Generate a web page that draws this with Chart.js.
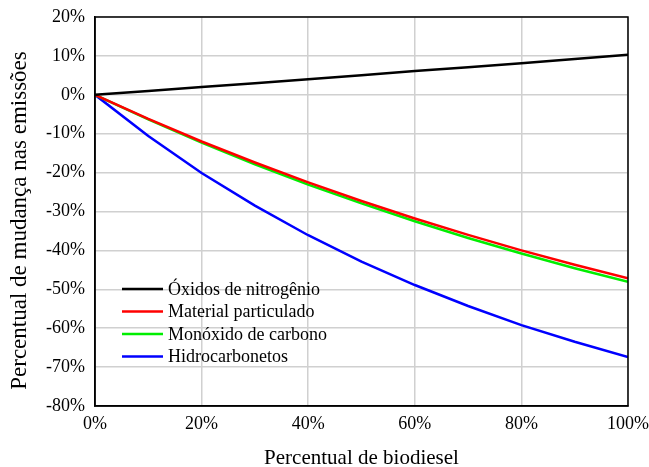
<!DOCTYPE html>
<html>
<head>
<meta charset="utf-8">
<script src="https://cdn.jsdelivr.net/npm/chart.js@4"></script>
<style>
html, body { margin: 0; padding: 0; background: #fff; }
#wrap { width: 649px; height: 467px; position: relative; }
</style>
</head>
<body>
<div id="wrap"><canvas id="chart" width="649" height="467"></canvas></div>
<script>
// ===== DATA =====
const biodieselPct = [0, 10, 20, 30, 40, 50, 60, 70, 80, 90, 100];
const seriesNames = ["Óxidos de nitrogênio", "Material particulado", "Monóxido de carbono", "Hidrocarbonetos"];
const noxValues = [0, 1.0, 2.0, 3.0, 4.0, 5.0, 6.1, 7.1, 8.1, 9.2, 10.3];
const pmValues = [0, -6.2, -12.0, -17.4, -22.5, -27.3, -31.8, -36.0, -40.0, -43.7, -47.2];
const coValues = [0, -6.3, -12.3, -17.9, -23.1, -27.9, -32.5, -36.8, -40.8, -44.6, -48.1];
const hcValues = [0, -10.6, -20.1, -28.5, -36.1, -42.9, -48.9, -54.3, -59.2, -63.5, -67.4];
const seriesColors = ["#000000", "#ff0000", "#00ee00", "#0000ff"];
const xTitle = "Percentual de biodiesel";
const yTitle = "Percentual de mudança nas emissões";

const FONT = "'Liberation Serif', 'Times New Roman', serif";

const toPoints = vals => vals.map((v, i) => ({ x: biodieselPct[i], y: v }));
const allValues = [noxValues, pmValues, coValues, hcValues];

// ===== border, y title + legend inside plot =====
const frameAndLegend = {
    id: "frameAndLegend",
    afterDraw(chart) {
        const ctx = chart.ctx;
        const a = chart.chartArea;
        ctx.save();
        ctx.strokeStyle = "#000";
        ctx.lineWidth = 1.5;
        ctx.strokeRect(a.left, a.top, a.right - a.left, a.bottom - a.top);

        // y axis title (a bit below the plot centre, like the original)
        ctx.save();
        ctx.translate(20, (a.top + a.bottom) / 2 + 9);
        ctx.rotate(-Math.PI / 2);
        ctx.font = "23px " + FONT;
        ctx.textAlign = "center";
        ctx.textBaseline = "middle";
        ctx.fillStyle = "#000";
        ctx.fillText(yTitle, 0, 0);
        ctx.restore();

        ctx.font = "18px " + FONT;
        ctx.textBaseline = "middle";
        ctx.fillStyle = "#000";
        ctx.lineWidth = 2.5;
        seriesNames.forEach((name, i) => {
            const y = a.bottom - 117 + i * 22.5;
            ctx.strokeStyle = seriesColors[i];
            ctx.beginPath();
            ctx.moveTo(a.left + 27, y);
            ctx.lineTo(a.left + 68, y);
            ctx.stroke();
            ctx.fillText(name, a.left + 73, y + 1);
        });
        ctx.restore();
    }
};

new Chart(document.getElementById("chart"), {
    type: "line",
    data: {
        datasets: seriesNames.map((name, i) => ({
            label: name,
            data: toPoints(allValues[i]),
            borderColor: seriesColors[i],
            borderWidth: 2.5,
            pointRadius: 0,
            tension: 0,
            fill: false
        }))
    },
    options: {
        responsive: false,
        animation: false,
        devicePixelRatio: 1,
        layout: { padding: { top: 17, right: 21, left: 0, bottom: 0 } },
        plugins: {
            legend: { display: false },
            tooltip: { enabled: false }
        },
        scales: {
            x: {
                type: "linear",
                min: 0,
                max: 100,
                ticks: {
                    stepSize: 20,
                    callback: v => v + "%",
                    color: "#000",
                    font: { family: FONT, size: 18 },
                    padding: 7,
                    maxRotation: 0
                },
                grid: { color: "#d0d0d0", lineWidth: 1.5, tickLength: 0 },
                border: { color: "#000", width: 1.5 },
                title: {
                    display: true,
                    text: xTitle,
                    color: "#000",
                    font: { family: FONT, size: 21, lineHeight: 0.8 },
                    padding: { top: 0, bottom: 0 }
                },
                afterFit: s => {
                    s.height = 61;
                    s.paddingLeft = 0;
                    s.paddingRight = 0;
                }
            },
            y: {
                min: -80,
                max: 20,
                ticks: {
                    stepSize: 10,
                    callback: v => v + "%",
                    color: "#000",
                    font: { family: FONT, size: 18 },
                    padding: 10
                },
                grid: { color: "#d0d0d0", lineWidth: 1.5, tickLength: 0 },
                border: { color: "#000", width: 1.5 },
                afterFit: s => {
                    s.width = 95;
                    s.paddingTop = 0;
                    s.paddingBottom = 0;
                }
            }
        }
    },
    plugins: [frameAndLegend]
});
</script>
</body>
</html>
